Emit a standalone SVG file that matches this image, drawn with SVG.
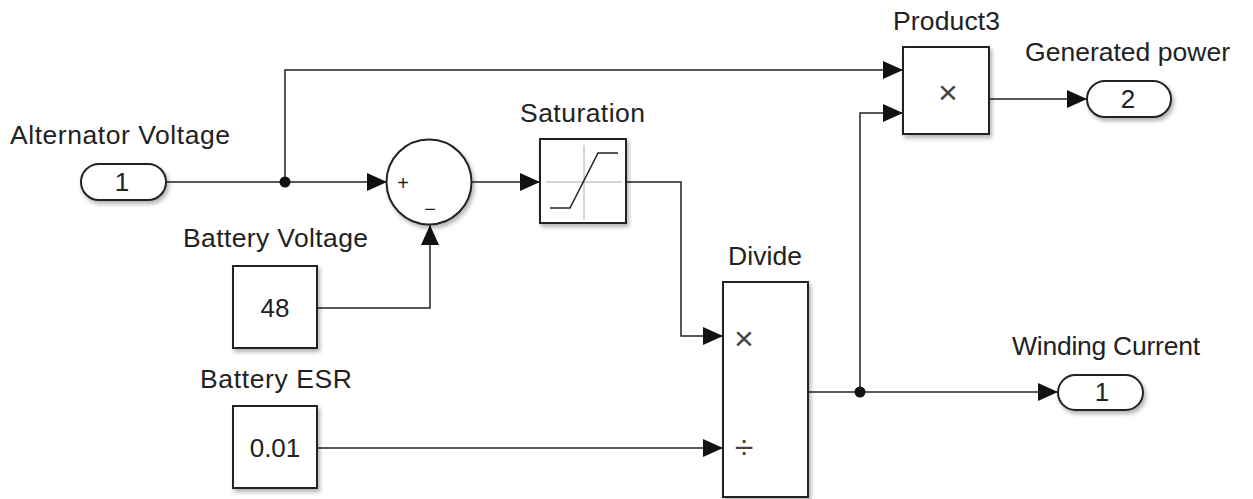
<svg xmlns="http://www.w3.org/2000/svg" width="1253" height="499" viewBox="0 0 1253 499">
<defs>
<style>
text{font-family:"Liberation Sans",Arial,sans-serif;fill:#222;}
.lbl{font-size:26.5px;text-anchor:middle;}
.val{font-size:26px;text-anchor:middle;}
.blk{fill:#fff;stroke:#222;stroke-width:2;filter:url(#sh);}
.wire{fill:none;stroke:#222;stroke-width:1.5;}
.grid{stroke:#aaa;stroke-width:1;}
.sym{font-size:34px;text-anchor:middle;fill:#444;}
.sgn{font-size:20px;text-anchor:middle;fill:#222;}
</style>
<filter id="sh" x="-20%" y="-20%" width="150%" height="150%">
<feDropShadow dx="2" dy="3" stdDeviation="2" flood-color="#000" flood-opacity="0.3"/>
</filter>
<marker id="arr" viewBox="0 0 20 18" refX="20" refY="9" markerWidth="20" markerHeight="18" markerUnits="userSpaceOnUse" orient="auto">
<path d="M0,0 L20,9 L0,18 Z" fill="#111"/>
</marker>
</defs>
<rect width="1253" height="499" fill="#fff"/>

<g id="connectors">
<path class="wire" d="M166,182 H387" marker-end="url(#arr)"/>
<path class="wire" d="M285,182 V70 H903" marker-end="url(#arr)"/>
<path class="wire" d="M317,308 H430 V225" marker-end="url(#arr)"/>
<path class="wire" d="M472,182 H540" marker-end="url(#arr)"/>
<path class="wire" d="M626,182 H681 V336 H723" marker-end="url(#arr)"/>
<path class="wire" d="M317,448 H723" marker-end="url(#arr)"/>
<path class="wire" d="M808,392 H1058" marker-end="url(#arr)"/>
<path class="wire" d="M860,392 V113 H903" marker-end="url(#arr)"/>
<path class="wire" d="M989,99 H1087" marker-end="url(#arr)"/>
<circle cx="285" cy="182" r="5.5" fill="#111"/>
<circle cx="860" cy="392" r="5.5" fill="#111"/>
</g>

<g id="inport-alternator">
<text class="lbl" x="120" y="144" textLength="220">Alternator Voltage</text>
<rect class="blk" x="81" y="164" width="85" height="36" rx="18"/>
<text class="val" x="122" y="191">1</text>
</g>

<g id="sum">
<circle class="blk" cx="429" cy="182" r="42.5"/>
<text class="sgn" x="403" y="190">+</text>
<text class="sgn" x="430" y="216">−</text>
</g>

<g id="const-battery-voltage">
<text class="lbl" x="275.5" y="247" textLength="185">Battery Voltage</text>
<rect class="blk" x="233" y="266" width="84" height="82"/>
<text class="val" x="275" y="317">48</text>
</g>

<g id="const-battery-esr">
<text class="lbl" x="276" y="388" textLength="152">Battery ESR</text>
<rect class="blk" x="233" y="406" width="84" height="82"/>
<text class="val" x="275" y="457">0.01</text>
</g>

<g id="saturation">
<text class="lbl" x="582.5" y="122" textLength="125">Saturation</text>
<rect class="blk" x="540" y="139" width="86" height="84"/>
<line class="grid" x1="546" y1="182" x2="622" y2="182"/>
<line class="grid" x1="584" y1="145" x2="584" y2="220"/>
<path d="M550,208 H570 L598,153 H618" fill="none" stroke="#222" stroke-width="1.5"/>
</g>

<g id="divide">
<text class="lbl" x="765" y="265" textLength="74">Divide</text>
<rect class="blk" x="723" y="282" width="85" height="215"/>
<text class="sym" x="744" y="350">×</text>
<text class="sym" x="744" y="459">÷</text>
</g>

<g id="product3">
<text class="lbl" x="946.5" y="30" textLength="107">Product3</text>
<rect class="blk" x="903" y="47" width="86" height="87"/>
<text class="sym" x="948" y="104">×</text>
</g>

<g id="outport-generated-power">
<text class="lbl" x="1127.5" y="61" textLength="205">Generated power</text>
<rect class="blk" x="1087" y="81" width="84" height="36" rx="18"/>
<text class="val" x="1128" y="108">2</text>
</g>

<g id="outport-winding-current">
<text class="lbl" x="1106" y="355" textLength="188">Winding Current</text>
<rect class="blk" x="1058" y="375" width="85" height="35" rx="17.5"/>
<text class="val" x="1102" y="401">1</text>
</g>
</svg>
